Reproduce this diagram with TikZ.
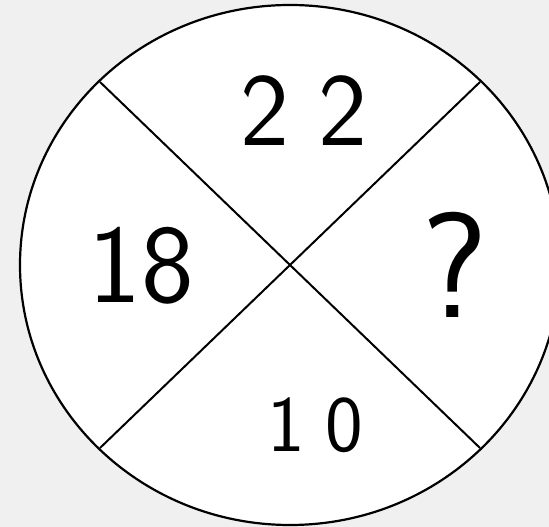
\documentclass[tikz,border=0pt]{standalone}
\usepackage{fontspec}
\usepackage{tikz}
\usetikzlibrary{positioning}
\definecolor{bggray}{RGB}{240,240,240}
\tikzset{
  wheel/.style={
    draw,
    fill = white,
    line width = 2.2pt
  },
  spoke/.style={
    line width = 2pt
  },
  digit/.style={
    inner sep = 0pt,
    font = \sffamily\fontsize{#1}{#1}\selectfont
  },
}

\begin{document}
\begin{tikzpicture}[x=1pt,y=1pt]
    \def\rx{270}
    \def\ry{260}
    \fill[bggray] (0,0) rectangle (549,527);
    \useasboundingbox (0,0) rectangle (549,527);
    \coordinate (c) at (290,262);
    \draw[wheel] (c) ellipse [x radius=\rx, y radius=\ry];
    % ends of the two diagonals on the rim
    \coordinate (ul) at (100,445);
    \coordinate (ur) at (480,445);
    \coordinate (ll) at (100,79);
    \coordinate (lr) at (480,79);
    \draw[spoke] (ul) -- (c) -- (lr);
    \draw[spoke] (ll) -- (c) -- (ur);
    % numbers in the four parts
    \node[digit=104] (top) at (304,416) {2\hspace{30pt}2};
    \node[digit=112] (left) at (141,261) {18};
    \node[digit=150] (right) at (455,262) {?};
    \node[digit=80] (bottom) at (315,102) {1\hspace{20pt}0};
\end{tikzpicture}
\end{document}
